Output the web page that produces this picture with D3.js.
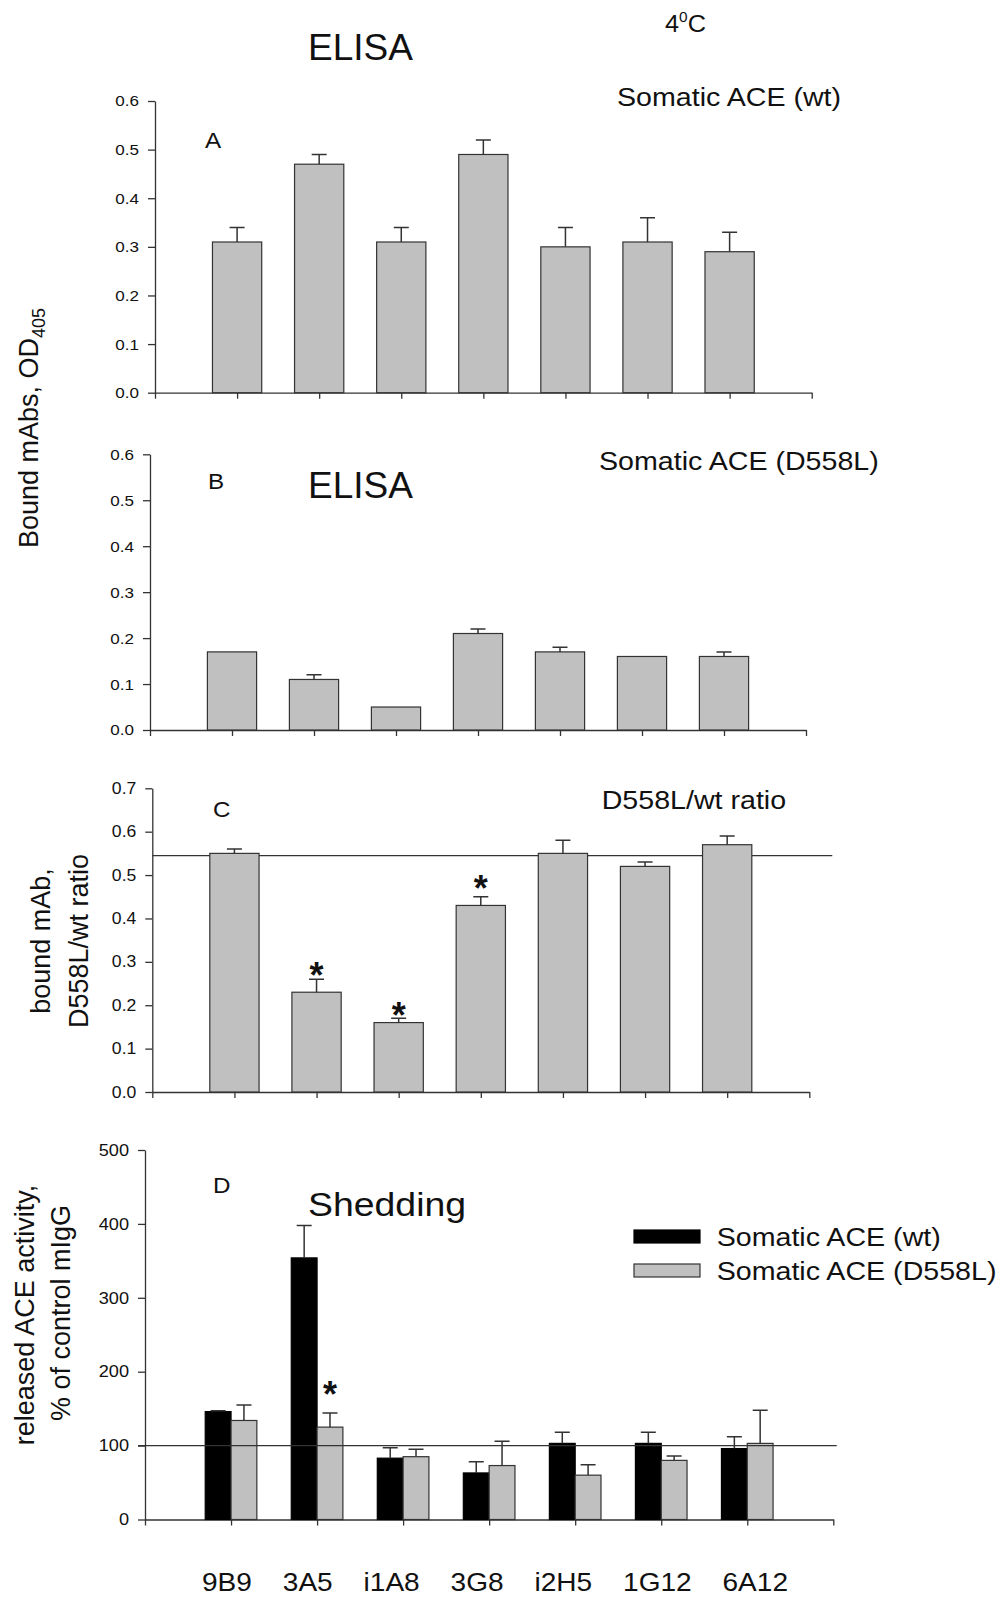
<!DOCTYPE html>
<meta charset="utf-8">
<style>
body { margin: 0; background: #fff; }
text { font-family: "Liberation Sans", Arial, sans-serif; fill: #111; }
.axis path, .axis line { stroke: #333; stroke-width: 1.3; }
.bar { fill: #c0c0c0; stroke: #333; stroke-width: 1.2; }
.bar.wt { fill: #000; stroke: #000; }
.err { stroke: #333; stroke-width: 1.5; fill: none; }
.ref { stroke: #333; stroke-width: 1.3; }
</style>
<body>
<script src="https://d3js.org/d3.v7.min.js"></script>
<script>

// monoclonal antibodies (x categories)
var mabs = ["9B9", "3A5", "i1A8", "3G8", "i2H5", "1G12", "6A12"];

// A: ELISA, somatic ACE wt (OD405)
var wtOD    = [0.31, 0.47, 0.31, 0.49, 0.30, 0.31, 0.29];
var wtODerr = [0.03, 0.02, 0.03, 0.03, 0.04, 0.05, 0.04];

// B: ELISA, somatic ACE D558L
var mutOD    = [0.17, 0.11, 0.05, 0.21, 0.17, 0.16, 0.16];
var mutODerr = [0, 0.01, 0, 0.01, 0.01, 0, 0.01];

// C: D558L/wt ratio
var ratio     = [0.55, 0.23, 0.16, 0.43, 0.55, 0.52, 0.57];
var ratioErr  = [0.01, 0.03, 0.01, 0.02, 0.03, 0.01, 0.02];
var ratioMean = 0.545;
var ratioStar = [null, 0.289, 0.197, 0.489, null, null, null];

// D: shedding, % of control mIgG
var shedWt     = [146, 354, 83, 63, 103, 103, 96];
var shedWtErr  = [1, 44, 14, 15, 15, 15, 16];
var shedMut    = [134, 125, 85, 73, 60, 80, 103];
var shedMutErr = [21, 19, 10, 33, 14, 6, 45];
var shedStar   = [null, 180, null, null, null, null, null];
var shedRef    = 100;

// tick labels
var odTicks    = [0, 0.1, 0.2, 0.3, 0.4, 0.5, 0.6];
var ratioTicks = [0, 0.1, 0.2, 0.3, 0.4, 0.5, 0.6, 0.7];
var shedTicks  = [0, 100, 200, 300, 400, 500];

var svg = d3.select("body").append("svg")
    .attr("width", 1004)
    .attr("height", 1598);

// the figure's lettering is a bit wider than Arial, stretch it sideways
function stretch(sel, k) {
  sel.each(function() {
    var t = d3.select(this);
    var x = +t.attr("x") || 0, y = +t.attr("y") || 0;
    t.attr("x", 0).attr("y", 0)
     .attr("transform", "translate(" + x + "," + y + ") scale(" + k + ",1)");
  });
  return sel;
}

function label(x, y, str, size, k) {
  var t = svg.append("text").attr("x", x).attr("y", y)
      .style("font-size", size + "px").text(str);
  stretch(t, k || 1.1);
  return t;
}

function vlabel(x, y, str, size) {
  return svg.append("text")
      .attr("transform", "translate(" + x + "," + y + ") rotate(-90)")
      .attr("text-anchor", "middle")
      .style("font-size", size + "px")
      .text(str);
}

// axes frame for one panel
function frame(p) {
  var x = d3.scaleLinear().domain([0, 8]).range([p.left, p.right]);
  var y = d3.scaleLinear().domain([0, p.max]).range([p.bottom, p.top]);
  var g = svg.append("g");

  g.append("g").attr("class", "axis")
      .attr("transform", "translate(0," + p.bottom + ")")
      .call(d3.axisBottom(x).tickValues(d3.range(0, 9)).tickFormat("")
        .tickSize(6).tickSizeOuter(0));

  var ya = g.append("g").attr("class", "axis")
      .attr("transform", "translate(" + p.left + ",0)")
      .call(d3.axisLeft(y).tickValues(p.ticks).tickFormat(d3.format(p.fmt))
        .tickSize(7).tickSizeOuter(0).tickPadding(9));
  ya.selectAll("text").attr("fill", "#222").style("font-size", p.font + "px");
  stretch(ya.selectAll("text"), 1.1);

  return {g: g, x: x, y: y};
}

// bars with upper error bars; off/w are in category units
function bars(f, vals, errs, off, w, cls) {
  var g = f.g.append("g");
  g.selectAll("rect").data(vals).enter().append("rect")
      .attr("class", "bar " + (cls || ""))
      .attr("x", function(d, i) { return f.x(i + 1 + off); })
      .attr("width", f.x(w) - f.x(0))
      .attr("y", function(d) { return f.y(d); })
      .attr("height", function(d) { return f.y(0) - f.y(d); });

  var e = vals.map(function(d, i) { return {v: d, e: errs[i], i: i}; })
      .filter(function(d) { return d.e > 0; });
  g.selectAll("path").data(e).enter().append("path")
      .attr("class", "err")
      .attr("d", function(d) {
        var cx = f.x(d.i + 1 + off + w / 2), y0 = f.y(d.v), y1 = f.y(d.v + d.e);
        return "M" + cx + "," + y0 + "V" + y1 + "M" + (cx - 7.5) + "," + y1 + "H" + (cx + 7.5);
      });
}

function stars(f, vals, off) {
  f.g.selectAll(null).data(vals).enter()
    .filter(function(d) { return d != null; })
    .append("text")
      .attr("x", function(d) { return f.x(vals.indexOf(d) + 1 + off); })
      .attr("y", function(d) { return f.y(d) + 21; })
      .attr("text-anchor", "middle")
      .style("font-size", "36px")
      .style("font-weight", "bold")
      .text("*");
}

// ---- panel A
var fa = frame({left: 155, right: 811.7, top: 101, bottom: 392.7, max: 0.6,
                ticks: odTicks, fmt: ".1f", font: 15.5});
bars(fa, wtOD, wtODerr, -0.3, 0.6);

// ---- panel B
var fb = frame({left: 150, right: 806, top: 454.3, bottom: 730, max: 0.6,
                ticks: odTicks, fmt: ".1f", font: 15.5});
bars(fb, mutOD, mutODerr, -0.3, 0.6);

// ---- panel C
var fc = frame({left: 152.3, right: 809.3, top: 788.3, bottom: 1092, max: 0.7,
                ticks: ratioTicks, fmt: ".1f", font: 16});
fc.g.append("line").attr("class", "ref")
    .attr("x1", fc.x(0)).attr("x2", fc.x(8.28))
    .attr("y1", fc.y(ratioMean)).attr("y2", fc.y(ratioMean));
bars(fc, ratio, ratioErr, -0.3, 0.6);
stars(fc, ratioStar, 0);

// ---- panel D
var fd = frame({left: 145, right: 833.3, top: 1150, bottom: 1519.5, max: 500,
                ticks: shedTicks, fmt: "d", font: 16.5});
bars(fd, shedWt, shedWtErr, -0.3, 0.3, "wt");
bars(fd, shedMut, shedMutErr, 0, 0.3);
fd.g.append("line").attr("class", "ref")
    .attr("x1", fd.x(-0.08)).attr("x2", fd.x(8.04))
    .attr("y1", fd.y(shedRef)).attr("y2", fd.y(shedRef));
stars(fd, shedStar, 0.15);

// ---- titles and panel letters
label(308, 60, "ELISA", 37, 1);
var tc = label(665, 32, "4", 23);
tc.append("tspan").attr("dy", -10).style("font-size", "14px").text("0");
tc.append("tspan").attr("dy", 10).text("C");
label(617, 106, "Somatic ACE (wt)", 26);
label(205, 147.7, "A", 22);

label(208, 489, "B", 22);
label(308, 498, "ELISA", 37, 1);
label(599, 470, "Somatic ACE (D558L)", 26);

label(213, 816.7, "C", 22);
label(601.7, 809.3, "D558L/wt ratio", 26);

label(213, 1192.7, "D", 22);
label(308, 1216, "Shedding", 34);

// legend
svg.append("rect").attr("x", 634).attr("y", 1230).attr("width", 66).attr("height", 13)
    .attr("class", "bar wt");
svg.append("rect").attr("x", 634).attr("y", 1264).attr("width", 66).attr("height", 13)
    .attr("class", "bar");
label(716.7, 1246, "Somatic ACE (wt)", 26);
label(716.7, 1280, "Somatic ACE (D558L)", 26);

// y axis titles
var yl = vlabel(38, 428, "Bound mAbs, OD", 27);
yl.append("tspan").attr("dy", 7).style("font-size", "18px").text("405");
vlabel(50, 941, "bound mAb,", 27);
vlabel(88, 941, "D558L/wt ratio", 27);
vlabel(34, 1315, "released ACE activity,", 27);
vlabel(70, 1313, "% of control mIgG", 27);

// antibody names under the bottom panel
label(202, 1591, mabs.join(" "), 25.5)
    .style("white-space", "pre")
    .style("word-spacing", "21px");

</script>
</body>
